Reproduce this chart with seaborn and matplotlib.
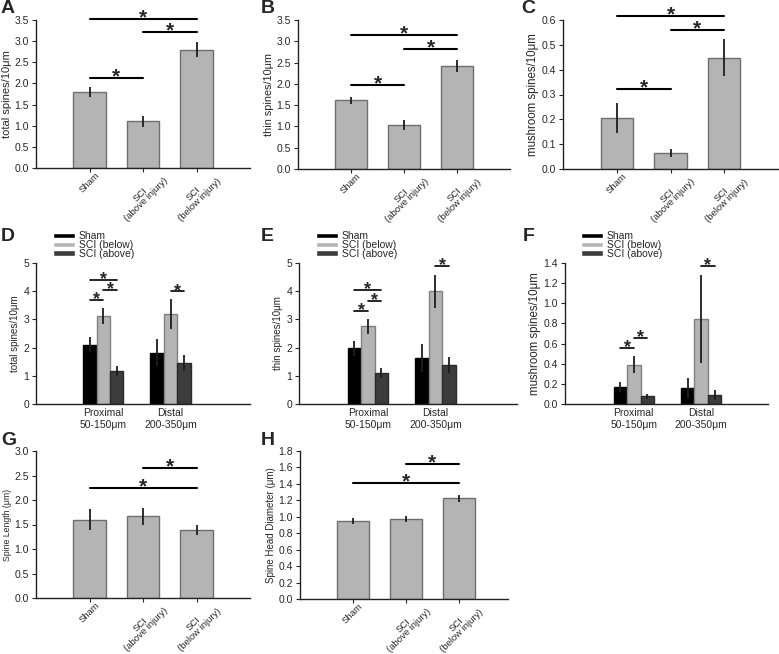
import numpy as np
import pandas as pd
import seaborn as sns
import matplotlib.pyplot as plt

sns.set_style('ticks')
plt.rcParams['font.family'] = ['Liberation Sans', 'DejaVu Sans']
plt.rcParams['axes.linewidth'] = 1.0

# --- data ---
conditions = ['Sham', 'SCI\n(above injury)', 'SCI\n(below injury)']

total_mean = [1.80, 1.10, 2.80]
total_err = [0.12, 0.12, 0.18]
thin_mean = [1.61, 1.03, 2.42]
thin_err = [0.09, 0.12, 0.15]
mush_mean = [0.205, 0.065, 0.448]
mush_err = [0.06, 0.015, 0.075]
length_mean = [1.60, 1.67, 1.38]
length_err = [0.22, 0.17, 0.10]
head_mean = [0.945, 0.97, 1.225]
head_err = [0.035, 0.035, 0.04]

regions = ['Proximal\n50-150μm', 'Distal\n200-350μm']
groups = ['Sham', 'SCI (below)', 'SCI (above)']
# rows = group, columns = region
total_dist_mean = [[2.10, 1.82], [3.13, 3.20], [1.18, 1.45]]
total_dist_err = [[0.27, 0.47], [0.28, 0.53], [0.17, 0.28]]
thin_dist_mean = [[1.97, 1.63], [2.75, 4.00], [1.10, 1.38]]
thin_dist_err = [[0.27, 0.50], [0.25, 0.58], [0.17, 0.27]]
mush_dist_mean = [[0.17, 0.155], [0.39, 0.845], [0.075, 0.085]]
mush_dist_err = [[0.05, 0.10], [0.085, 0.44], [0.025, 0.05]]

# significance brackets: (bar i, bar j, height)
sig_A = [(0, 1, 2.14), (1, 2, 3.21), (0, 2, 3.52)]
sig_B = [(0, 1, 1.97), (1, 2, 2.82), (0, 2, 3.15)]
sig_C = [(0, 1, 0.321), (1, 2, 0.56), (0, 2, 0.618)]
sig_G = [(0, 2, 2.25), (1, 2, 2.65)]
sig_H = [(0, 2, 1.415), (1, 2, 1.64)]
# (region, group i, group j, height)
sig_D = [(0, 0, 1, 3.70), (0, 1, 2, 4.06), (0, 0, 2, 4.41), (1, 1, 2, 3.99)]
sig_E = [(0, 0, 1, 3.30), (0, 1, 2, 3.66), (0, 0, 2, 4.03), (1, 1, 2, 4.89)]
sig_F = [(0, 0, 1, 0.558), (0, 1, 2, 0.66), (1, 1, 2, 1.37)]

bar_gray = '#b4b4b4'
edge_gray = '#6e6e6e'
group_colors = ['#000000', '#b4b4b4', '#3c3c3c']
group_edges = ['#000000', '#808080', '#2a2a2a']
err_color = '#1e1e1e'

W, H = 779, 654
fig = plt.figure(figsize=(W / 100, H / 100), dpi=100)


def rect(left, right, top, bottom):
    return [left / W, 1 - bottom / H, (right - left) / W, (bottom - top) / H]


def style_axes(ax, ylim, ystep, fmt, ylabel, ylabel_size):
    sns.despine(ax=ax)
    ax.set_ylim(*ylim)
    ax.set_yticks(np.arange(ylim[0], ylim[1] + ystep / 2, ystep))
    ax.set_yticklabels([fmt % v for v in ax.get_yticks()])
    ax.set_ylabel(ylabel, fontsize=ylabel_size, labelpad=2)
    ax.set_xlabel('')
    ax.tick_params(axis='y', labelsize=7.5, length=3, width=0.8, pad=2)
    for s in ax.spines.values():
        s.set_color('#222222')


def star_line(ax, x0, x1, y, lw, fs, dy):
    ax.plot([x0, x1], [y, y], color='black', lw=lw, clip_on=False)
    ax.annotate('*', xy=((x0 + x1) / 2, y), xytext=(0, dy), textcoords='offset points',
                ha='center', va='baseline', fontsize=fs, fontweight='bold',
                annotation_clip=False)


def simple_panel(r, means, errs, ylabel, ylabel_size, ylim, ystep, sig, xlim=(-1, 3)):
    ax = fig.add_axes(r)
    df = pd.DataFrame({'cond': conditions, 'val': means})
    sns.barplot(data=df, x='cond', y='val', color=bar_gray, saturation=1,
                edgecolor=edge_gray, linewidth=1.0, width=0.6, errorbar=None, ax=ax)
    xs = [p.get_x() + p.get_width() / 2 for p in ax.patches]
    ax.errorbar(xs, means, yerr=errs, fmt='none', ecolor=err_color,
                elinewidth=1.3, capsize=0)
    ax.set_xlim(*xlim)
    style_axes(ax, ylim, ystep, '%.1f', ylabel, ylabel_size)
    ax.tick_params(axis='x', labelsize=6.8, length=3, width=0.8, pad=-1)
    ax.set_xticks(range(len(conditions)))
    ax.set_xticklabels(conditions, rotation=45, ha='center')
    for lbl in ax.get_xticklabels():
        lbl.set_multialignment('center')
        lbl.set_linespacing(0.85)
    for i, j, y in sig:
        star_line(ax, xs[i], xs[j], y, 1.5, 15, -3.2)
    return ax


def grouped_panel(r, means, errs, ylabel, ylabel_size, ylim, ystep, fmt, sig, xlim):
    ax = fig.add_axes(r)
    rows = []
    for gi, g in enumerate(groups):
        for ri, reg in enumerate(regions):
            rows.append({'region': reg, 'group': g, 'val': means[gi][ri]})
    df = pd.DataFrame(rows)
    sns.barplot(data=df, x='region', y='val', hue='group', hue_order=groups,
                palette=group_colors, saturation=1, width=0.6, errorbar=None,
                linewidth=1.0, ax=ax)
    bar_conts = list(ax.containers)
    for gi, cont in enumerate(bar_conts):
        for p in cont:
            p.set_edgecolor(group_edges[gi])
        xs = [p.get_x() + p.get_width() / 2 for p in cont]
        ax.errorbar(xs, means[gi], yerr=errs[gi], fmt='none', ecolor=err_color,
                    elinewidth=1.3, capsize=0)
    ax.set_xlim(*xlim)
    style_axes(ax, ylim, ystep, fmt, ylabel, ylabel_size)
    ax.tick_params(axis='x', labelsize=7.5, length=0, pad=3)
    for reg, gi, gj, y in sig:
        pi = bar_conts[gi][reg]
        pj = bar_conts[gj][reg]
        star_line(ax, pi.get_x() + pi.get_width() / 2, pj.get_x() + pj.get_width() / 2,
                  y, 1.2, 13, -3)
    sns.move_legend(ax, 'lower left', bbox_to_anchor=(0.08, 1.03), frameon=False,
                    title=None, fontsize=7.5, handlelength=2.1, handleheight=0.45,
                    labelspacing=-0.12, handletextpad=0.35, borderaxespad=0,
                    borderpad=0)
    return ax


simple_panel(rect(36, 250, 20, 168), total_mean, total_err,
             'total spines/10μm', 8, (0, 3.5), 0.5, sig_A)
simple_panel(rect(298, 510, 20, 169), thin_mean, thin_err,
             'thin spines/10μm', 7.8, (0, 3.5), 0.5, sig_B)
simple_panel(rect(563, 778, 20, 169), mush_mean, mush_err,
             'mushroom spines/10μm', 8.3, (0, 0.6), 0.1, sig_C)

grouped_panel(rect(36, 250, 263, 404), total_dist_mean, total_dist_err,
              'total spines/10μm', 7, (0, 5), 1, '%d', sig_D, (-1.0, 2.18))
grouped_panel(rect(299, 517, 263, 404), thin_dist_mean, thin_dist_err,
              'thin spines/10μm', 7, (0, 5), 1, '%d', sig_E, (-1.02, 2.21))
grouped_panel(rect(565, 768, 263, 404), mush_dist_mean, mush_dist_err,
              'mushroom spines/10μm', 8.3, (0, 1.4), 0.2, '%.1f', sig_F, (-1.02, 1.99))

simple_panel(rect(36, 250, 451, 598), length_mean, length_err,
             'Spine Length (μm)', 6.3, (0, 3.0), 0.5, sig_G)
simple_panel(rect(300, 508, 451, 599), head_mean, head_err,
             'Spine Head Diameter (μm)', 7, (0, 1.8), 0.2, sig_H, xlim=(-1, 2.93))

letters = [('A', 1, 0), ('B', 261, 0), ('C', 521, 0),
           ('D', 1, 228), ('E', 261, 228), ('F', 523, 228),
           ('G', 1, 432), ('H', 261, 432)]
for txt, px, py in letters:
    fig.text(px / W, 1 - py / H, txt, fontsize=14, fontweight='bold',
             ha='left', va='top')

fig.savefig('out.png', dpi=100)
